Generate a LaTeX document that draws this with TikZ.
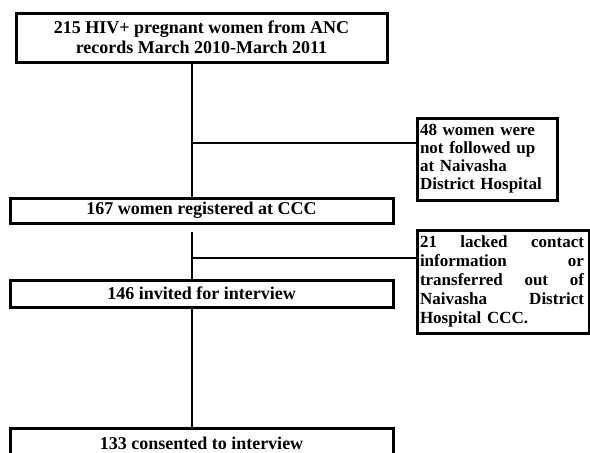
\documentclass[tikz,border=0pt]{standalone}
\usepackage{fontspec}
\setmainfont{Liberation Serif}
\usepackage{tikz}
\tikzstyle{box}=[draw,line width=3pt,inner sep=3pt,font=\bfseries\fontsize{18}{20}\selectfont]
\tikzstyle{wide}=[box,minimum width=383pt,align=center]
\tikzstyle{side}=[box,align=left,font=\bfseries\fontsize{17}{18}\selectfont]
\tikzstyle{link}=[line width=2.8pt]
\newcommand{\spread}[1]{\leavevmode\hbox to 164pt{#1}}
\begin{document}
\begin{tikzpicture}[x=1pt,y=-1pt]
                    \clip (0,0) rectangle (590,453);
                    \node[wide,minimum width=371pt,minimum height=49pt] (anc) at (201.5,37.5) {215 HIV+ pregnant women from ANC\\records March 2010-March 2011};
                    \node[wide,minimum height=25pt] (ccc) at (201.5,210.5) {167 women registered at CCC};
                    \node[wide,minimum height=27pt] (invited) at (201.5,293.5) {146 invited for interview};
                    \node[wide,minimum height=31pt] (consent) at (201.5,443.5) {133 consented to interview};
                    \node[side,text width=134pt,minimum height=82pt] (notfollowed) at (487,159) {48 women were\\not followed up\\at Naivasha\\District Hospital};
                    \node[side,text width=166pt,minimum height=103pt,font=\bfseries\fontsize{17}{19}\selectfont] (nocontact) at (503,281.5) {\spread{21\hfill lacked\hfill contact}\\\spread{information\hfill or}\\\spread{transferred\hfill out\hfill of}\\\spread{Naivasha\hfill District}\\Hospital CCC.};
                    \coordinate (spine) at (192,0);
                    \coordinate (fork1) at (192,143);
                    \coordinate (gap) at (192,232);
                    \coordinate (fork2) at (192,258);
                    \draw[link] (anc.south -| spine) -- (ccc.north -| spine);
                    \draw[link] (fork1) -- (fork1 -| notfollowed.west);
                    \draw[link] (gap) -- (invited.north -| spine);
                    \draw[link] (fork2) -- (fork2 -| nocontact.west);
                    \draw[link] (invited.south -| spine) -- (consent.north -| spine);
                \end{tikzpicture}
\end{document}
